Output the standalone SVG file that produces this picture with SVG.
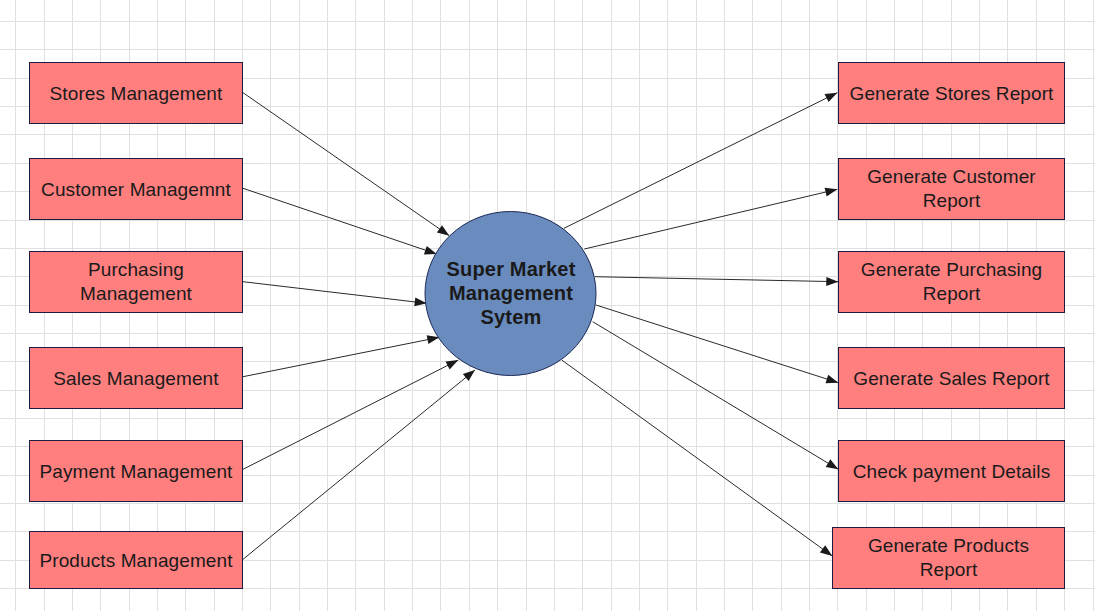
<svg xmlns="http://www.w3.org/2000/svg" width="1095" height="611" viewBox="0 0 1095 611">
<defs>
<style>
.grid{stroke:#e0e0e0;stroke-width:1;fill:none}
.box{fill:#ff7f7f;stroke:#1c1c40;stroke-width:1}
.hub{fill:#6a8bbd;stroke:#1c2a55;stroke-width:1}
.t{font-family:"Liberation Sans",Arial,sans-serif;font-size:19px;letter-spacing:0.1px;fill:#1a1a1a;text-anchor:middle}
.tb{font-family:"Liberation Sans",Arial,sans-serif;font-size:20px;letter-spacing:0.2px;font-weight:bold;fill:#1a1a1a;text-anchor:middle}
.edge{stroke:#2a2a2a;stroke-width:1;fill:none;marker-end:url(#arr)}
</style>
<marker id="arr" markerUnits="userSpaceOnUse" markerWidth="14" markerHeight="12" viewBox="0 0 14 12" refX="13" refY="6" orient="auto">
<path d="M1,1.5 L13,6 L1,10.5 Z" fill="#1a1a1a"/>
</marker>
</defs>
<rect width="1095" height="611" fill="#ffffff"/>
<path class="grid" d="M15.5,0V611M44.5,0V611M72.5,0V611M100.5,0V611M129.5,0V611M157.5,0V611M185.5,0V611M214.5,0V611M242.5,0V611M270.5,0V611M299.5,0V611M327.5,0V611M355.5,0V611M384.5,0V611M412.5,0V611M440.5,0V611M469.5,0V611M497.5,0V611M526.5,0V611M554.5,0V611M582.5,0V611M611.5,0V611M639.5,0V611M667.5,0V611M696.5,0V611M724.5,0V611M752.5,0V611M781.5,0V611M809.5,0V611M837.5,0V611M866.5,0V611M894.5,0V611M922.5,0V611M951.5,0V611M979.5,0V611M1007.5,0V611M1036.5,0V611M1064.5,0V611M1093.5,0V611M0,21.5H1095M0,49.5H1095M0,78.5H1095M0,106.5H1095M0,134.5H1095M0,163.5H1095M0,191.5H1095M0,220.5H1095M0,248.5H1095M0,276.5H1095M0,305.5H1095M0,333.5H1095M0,361.5H1095M0,390.5H1095M0,418.5H1095M0,446.5H1095M0,475.5H1095M0,503.5H1095M0,531.5H1095M0,560.5H1095M0,588.5H1095"/>
<g id="connectors">
<line class="edge" x1="243" y1="92.7" x2="449.3" y2="235.7"/>
<line class="edge" x1="243" y1="188.3" x2="436.7" y2="254"/>
<line class="edge" x1="243" y1="281.7" x2="426.7" y2="303.3"/>
<line class="edge" x1="243" y1="376.7" x2="439.3" y2="337.3"/>
<line class="edge" x1="243" y1="469.3" x2="458.3" y2="360"/>
<line class="edge" x1="243" y1="559.3" x2="475" y2="370"/>
<line class="edge" x1="564" y1="228.3" x2="837.3" y2="92.7"/>
<line class="edge" x1="584.3" y1="249" x2="837.3" y2="189.3"/>
<line class="edge" x1="595" y1="276.7" x2="838.3" y2="281.7"/>
<line class="edge" x1="596" y1="305" x2="838.3" y2="382.7"/>
<line class="edge" x1="592.7" y1="321.7" x2="838.3" y2="469.3"/>
<line class="edge" x1="561.7" y1="360" x2="832.3" y2="556"/>
</g>
<g id="hub">
<ellipse class="hub" cx="510.5" cy="293.5" rx="85.5" ry="82"/>
<text class="tb" x="511" y="276">Super Market</text>
<text class="tb" x="511" y="300">Management</text>
<text class="tb" x="511" y="324">Sytem</text>
</g>
<g id="stores-management"><rect class="box" x="29.5" y="62.5" width="213" height="61"/><text class="t" x="136" y="100">Stores Management</text></g>
<g id="customer-management"><rect class="box" x="29.5" y="158.5" width="213" height="61"/><text class="t" x="136" y="196">Customer Managemnt</text></g>
<g id="purchasing-management"><rect class="box" x="29.5" y="251.5" width="213" height="61"/><text class="t" x="136" y="276.2">Purchasing</text><text class="t" x="136" y="300.2">Management</text></g>
<g id="sales-management"><rect class="box" x="29.5" y="347.5" width="213" height="61"/><text class="t" x="136" y="384.5">Sales Management</text></g>
<g id="payment-management"><rect class="box" x="29.5" y="440.5" width="213" height="61"/><text class="t" x="136" y="477.5">Payment Management</text></g>
<g id="products-management"><rect class="box" x="29.5" y="531.5" width="213" height="57"/><text class="t" x="136" y="566.5">Products Management</text></g>
<g id="stores-report"><rect class="box" x="838.5" y="62.5" width="226" height="61"/><text class="t" x="951.5" y="100">Generate Stores Report</text></g>
<g id="customer-report"><rect class="box" x="838.5" y="158.5" width="226" height="61"/><text class="t" x="951.5" y="183.3">Generate Customer</text><text class="t" x="951.5" y="207.3">Report</text></g>
<g id="purchasing-report"><rect class="box" x="838.5" y="251.5" width="226" height="61"/><text class="t" x="951.5" y="276.2">Generate Purchasing</text><text class="t" x="951.5" y="300.2">Report</text></g>
<g id="sales-report"><rect class="box" x="838.5" y="347.5" width="226" height="61"/><text class="t" x="951.5" y="384.5">Generate Sales Report</text></g>
<g id="payment-details"><rect class="box" x="838.5" y="440.5" width="226" height="61"/><text class="t" x="951.5" y="477.5">Check payment Details</text></g>
<g id="products-report"><rect class="box" x="832.5" y="527.5" width="232" height="61"/><text class="t" x="948.5" y="552.3">Generate Products</text><text class="t" x="948.5" y="576.3">Report</text></g>
</svg>
